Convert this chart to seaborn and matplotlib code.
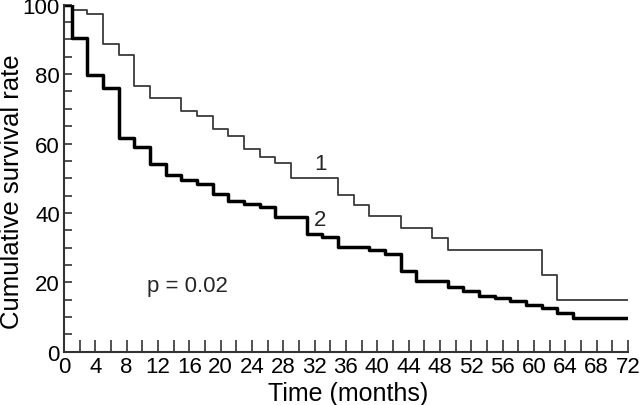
import numpy as np
import pandas as pd
import matplotlib
matplotlib.use("Agg")
import matplotlib.pyplot as plt
import seaborn as sns

# survival steps (month, rate after the step)
time_1 = [0, 1, 3, 5, 7, 9, 11, 15, 17, 19, 21, 23, 25, 27, 29, 35, 37, 39,
          43, 47, 49, 61, 63, 72]
rate_1 = [100, 98.6, 97.2, 88.8, 85.4, 76.5, 73.2, 69.4, 67.8, 64.1, 62.2,
          58.3, 56.2, 54.3, 50.2, 45.1, 42.2, 39.0, 35.8, 32.7, 29.2, 22.0,
          14.8, 14.8]

time_2 = [0, 1, 3, 5, 7, 9, 11, 13, 15, 17, 19, 21, 23, 25, 27, 31, 33, 35,
          39, 41, 43, 45, 49, 51, 53, 55, 57, 59, 61, 63, 65, 72]
rate_2 = [100, 90.4, 79.8, 76.0, 61.6, 58.9, 54.0, 51.0, 49.5, 48.4, 45.4,
          43.5, 42.6, 41.7, 38.8, 33.9, 33.0, 30.2, 29.2, 28.3, 23.4, 20.5,
          18.6, 17.5, 16.2, 15.5, 14.5, 13.6, 12.7, 11.2, 9.8, 9.8]

x_ticks = list(range(0, 73, 4))
y_ticks = [0, 20, 40, 60, 80, 100]

df1 = pd.DataFrame({"time": time_1, "rate": rate_1})
df2 = pd.DataFrame({"time": time_2, "rate": rate_2})

sns.set_style("ticks")
plt.rcParams['font.family'] = ['Liberation Sans', 'DejaVu Sans']
narrow = ['Liberation Sans Narrow', 'Liberation Sans', 'DejaVu Sans']

fig = plt.figure(figsize=(6.4, 4.06), dpi=100)
ax = fig.add_axes([0.1, 0.131, 0.881, 0.855])

sns.lineplot(data=df1, x="time", y="rate", ax=ax, drawstyle="steps-post",
             color="#3a3a3a", linewidth=1.3)
sns.lineplot(data=df2, x="time", y="rate", ax=ax, drawstyle="steps-post",
             color="black", linewidth=2.5)

ax.set_xlim(0, 72)
ax.set_ylim(0, 100)
ax.set_xticks(x_ticks)
ax.set_xticks(range(0, 73, 2), minor=True)
ax.set_yticks(y_ticks)
ax.set_yticks(range(0, 101, 5), minor=True)
ax.tick_params(axis="x", which="both", direction="in", length=9, width=1.2,
               labelsize=16, pad=3, colors="#333333", labelcolor="black")
ax.tick_params(axis="y", which="both", direction="in", length=6, width=1.2,
               labelsize=16, pad=3, colors="#333333", labelcolor="black")
for lab in ax.get_xticklabels() + ax.get_yticklabels():
    lab.set_fontfamily(narrow)

sns.despine(ax=ax)
for side in ["left", "bottom"]:
    ax.spines[side].set_color("#333333")
    ax.spines[side].set_linewidth(1.5)

ax.set_xlabel("Time (months)", fontsize=18, color="black")
ax.set_ylabel("Cumulative survival rate", fontsize=18.5, color="black")
ax.xaxis.set_label_coords(0.504, -0.083)
ax.yaxis.set_label_coords(-0.071, 0.465)

ax.text(32.7, 54.2, "1", fontsize=16, ha="center", va="center")
ax.text(32.7, 38, "2", fontsize=16, ha="center", va="center")
ax.text(15.7, 19, "p = 0.02", fontsize=16, ha="center", va="center")

fig.savefig("out.png", dpi=100)
